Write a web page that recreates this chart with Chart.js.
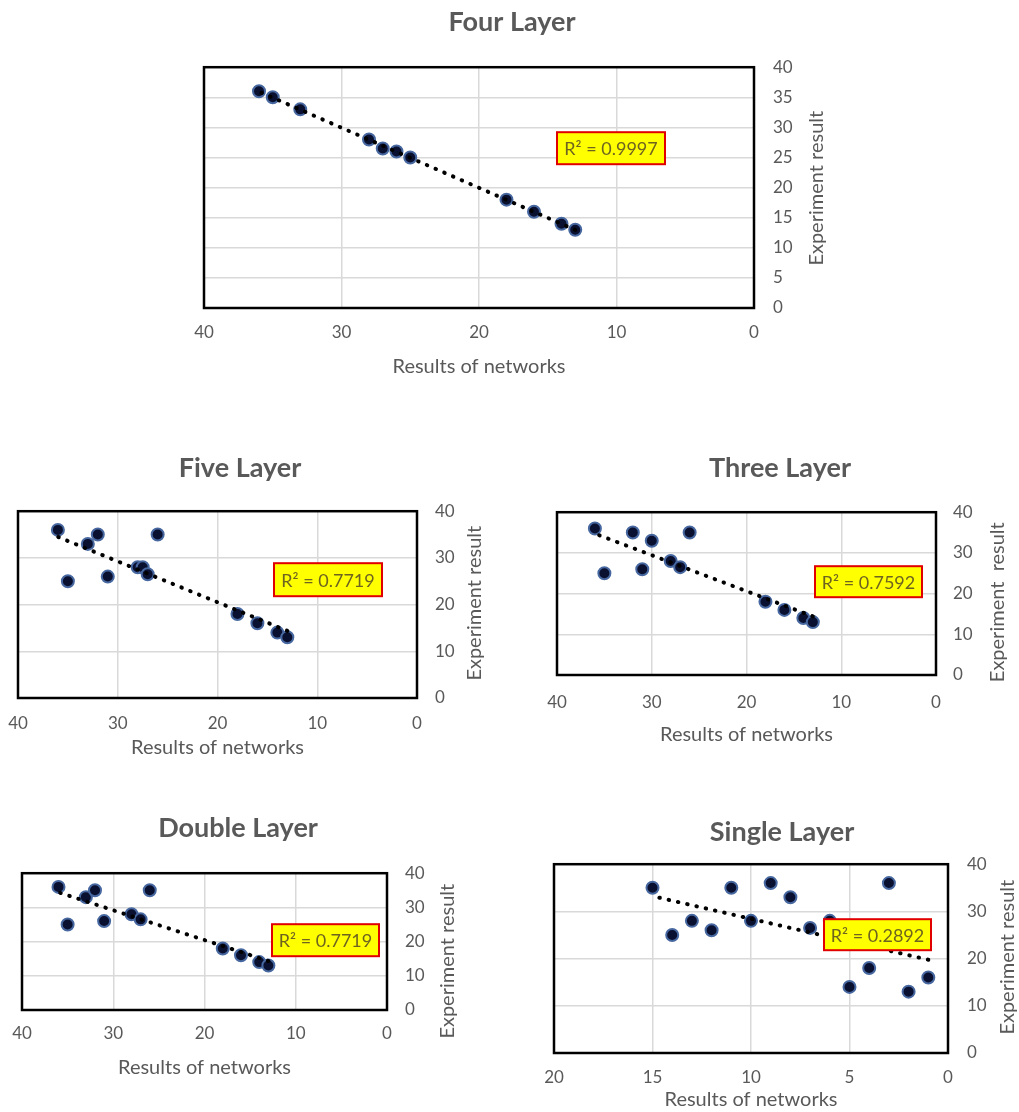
<!DOCTYPE html>
<html>
<head>
<meta charset="utf-8">
<title>Network layers vs experiment</title>
<script src="https://cdn.jsdelivr.net/npm/chart.js@4.4.1/dist/chart.umd.min.js"></script>
<style>
  html, body { margin: 0; padding: 0; background: #fff; overflow: hidden; }
  body { width: 1019px; height: 1112px; position: relative; }
  canvas { position: absolute; }
</style>
</head>
<body>
<canvas id="fourChart"></canvas>
<canvas id="fiveChart"></canvas>
<canvas id="threeChart"></canvas>
<canvas id="doubleChart"></canvas>
<canvas id="singleChart"></canvas>
<script>
// values: network result (x) vs experiment result (y)
const fourNet = [36, 35, 33, 28, 27, 26, 25, 18, 16, 14, 13];
const fourExp = [36, 35, 33, 28, 26.5, 26, 25, 18, 16, 14, 13];

const fiveNet = [36, 35, 33, 32, 31, 28, 27.5, 27, 26, 18, 16, 14, 13];
const fiveExp = [36, 25, 33, 35, 26, 28, 28, 26.5, 35, 18, 16, 14, 13];

const threeNet = [36, 35, 32, 31, 30, 28, 27, 26, 18, 16, 14, 13];
const threeExp = [36, 25, 35, 26, 33, 28, 26.5, 35, 18, 16, 14, 13];

const doubleNet = [36, 35, 33, 32, 31, 28, 27, 26, 18, 16, 14, 13];
const doubleExp = [36, 25, 33, 35, 26, 28, 26.5, 35, 18, 16, 14, 13];

const singleNet = [15, 14, 13, 12, 11, 10, 9, 8, 7, 6, 5, 4, 3, 2, 1];
const singleExp = [35, 25, 28, 26, 35, 28, 36, 33, 26.5, 28, 14, 18, 36, 13, 16];

const xTicksWide = [0, 10, 20, 30, 40];
const xTicksNarrow = [0, 5, 10, 15, 20];
const yTicksFine = [0, 5, 10, 15, 20, 25, 30, 35, 40];
const yTicksCoarse = [0, 10, 20, 30, 40];

const FONT = "Lato, 'Open Sans', sans-serif";
const GREY = '#595959';
const GRID = '#d9d9d9';
const TITLE_SIZE = 27, TICK_SIZE = 17, AXIS_SIZE = 20, R2_SIZE = 18;

// page layout of each panel (plot box = [left, top, right, bottom])
const panels = [
  { id: 'fourChart', title: 'Four Layer', net: fourNet, exp: fourExp, r2: 'R² = 0.9997',
    xTicks: xTicksWide, yTicks: yTicksFine, yTitle: 'Experiment result',
    plot: [204, 67, 754, 308], titleY: 22, xLabelY: 333, xTitleY: 367,
    yw: 66, yGap: 19, yTitleX: 817, yTitleY: 188, r2Box: [557, 132, 665, 164] },
  { id: 'fiveChart', title: 'Five Layer', net: fiveNet, exp: fiveExp, r2: 'R² = 0.7719',
    xTicks: xTicksWide, yTicks: yTicksCoarse, yTitle: 'Experiment result',
    plot: [18, 511, 417, 698], titleY: 468, xLabelY: 724, xTitleY: 748,
    yw: 45, yGap: 18, yTitleX: 475, yTitleY: 603, r2Box: [274, 563, 382, 596] },
  { id: 'threeChart', title: 'Three Layer', net: threeNet, exp: threeExp, r2: 'R² = 0.7592',
    xTicks: xTicksWide, yTicks: yTicksCoarse, yTitle: 'Experiment  result',
    plot: [557, 512, 936, 675], titleY: 468, xLabelY: 703, xTitleY: 735,
    yw: 67, yGap: 17, yTitleX: 998, yTitleY: 602, r2Box: [815, 566, 922, 597] },
  { id: 'doubleChart', title: 'Double Layer', net: doubleNet, exp: doubleExp, r2: 'R² = 0.7719',
    xTicks: xTicksWide, yTicks: yTicksCoarse, yTitle: 'Experiment result',
    plot: [22, 873, 387, 1010], titleY: 828, xLabelY: 1034, xTitleY: 1068,
    yw: 67, yGap: 18, yTitleX: 448, yTitleY: 961, r2Box: [272, 924, 379, 956] },
  { id: 'singleChart', title: 'Single Layer', net: singleNet, exp: singleExp, r2: 'R² = 0.2892',
    xTicks: xTicksNarrow, yTicks: yTicksCoarse, yTitle: 'Experiment result',
    plot: [554, 864, 948, 1053], titleY: 832, xLabelY: 1078, xTitleY: 1100,
    yw: 62, yGap: 19, yTitleX: 1008, yTitleY: 957, r2Box: [824, 919, 931, 950] }
];

// least squares line, like the Excel linear trendline
function linearFit(xs, ys) {
  const n = xs.length;
  const mx = xs.reduce((a, b) => a + b, 0) / n;
  const my = ys.reduce((a, b) => a + b, 0) / n;
  let sxy = 0, sxx = 0;
  xs.forEach((x, i) => {
    sxy += (x - mx) * (ys[i] - my);
    sxx += (x - mx) * (x - mx);
  });
  const slope = sxy / sxx;
  return x => my + slope * (x - mx);
}

panels.forEach(p => {
  const [bl, bt, br, bb] = p.plot;
  const titleHalf = TITLE_SIZE * 1.2 / 2;
  const axisHalf = AXIS_SIZE * 1.2 / 2;
  const tickHalf = TICK_SIZE * 1.2 / 2;
  const padL = 14;
  const left = bl - padL;
  const top = p.titleY - titleHalf;
  const right = Math.min(1019, p.yTitleX + 13);
  const bottom = p.xTitleY + axisHalf + 2;
  const width = right - left;
  const height = bottom - top;
  const padR = right - br - p.yw;

  const canvas = document.getElementById(p.id);
  canvas.width = width;
  canvas.height = height;
  canvas.style.left = left + 'px';
  canvas.style.top = top + 'px';

  const fit = linearFit(p.net, p.exp);
  const lo = Math.min(...p.net);
  const hi = Math.max(...p.net);

  // frame, rotated y title and the R² label
  const decor = {
    id: 'decor',
    afterDatasetsDraw(chart) {
      const { ctx, chartArea: a } = chart;
      ctx.save();
      ctx.strokeStyle = '#000';
      ctx.lineWidth = 2.5;
      ctx.strokeRect(a.left, a.top, a.right - a.left, a.bottom - a.top);

      const [x1, y1, x2, y2] = p.r2Box;
      ctx.fillStyle = '#ffff00';
      ctx.fillRect(x1 - left, y1 - top, x2 - x1, y2 - y1);
      ctx.strokeStyle = '#e00000';
      ctx.lineWidth = 2;
      ctx.strokeRect(x1 - left, y1 - top, x2 - x1, y2 - y1);
      ctx.fillStyle = '#6e6420';
      ctx.font = R2_SIZE + 'px ' + FONT;
      ctx.textAlign = 'center';
      ctx.textBaseline = 'middle';
      ctx.fillText(p.r2, (x1 + x2) / 2 - left, (y1 + y2) / 2 - top + 1);

      ctx.fillStyle = GREY;
      ctx.font = AXIS_SIZE + 'px ' + FONT;
      ctx.translate(p.yTitleX - left, p.yTitleY - top);
      ctx.rotate(-Math.PI / 2);
      ctx.fillText(p.yTitle, 0, 0);
      ctx.restore();
    }
  };

  new Chart(canvas, {
    type: 'scatter',
    data: {
      datasets: [{
        label: 'Linear trend',
        data: [{ x: lo, y: fit(lo) }, { x: hi, y: fit(hi) }],
        showLine: true,
        borderColor: '#000',
        borderWidth: 4,
        borderDash: [0.5, 9],
        borderCapStyle: 'round',
        pointRadius: 0,
        pointHoverRadius: 0
      }, {
        label: 'Experiment result',
        data: p.net.map((x, i) => ({ x: x, y: p.exp[i] })),
        backgroundColor: '#0a1030',
        borderColor: '#46679f',
        borderWidth: 2,
        pointRadius: 6,
        pointHoverRadius: 6
      }]
    },
    options: {
      responsive: false,
      animation: false,
      events: [],
      layout: { padding: { left: padL, right: padR, top: 0, bottom: 0 } },
      plugins: {
        legend: { display: false },
        tooltip: { enabled: false },
        title: {
          display: true,
          text: p.title,
          color: GREY,
          font: { family: FONT, size: TITLE_SIZE, weight: 'bold' },
          padding: { top: 0, bottom: bt - p.titleY - titleHalf }
        }
      },
      scales: {
        x: {
          type: 'linear',
          position: 'bottom',
          reverse: true,
          min: p.xTicks[0],
          max: p.xTicks[p.xTicks.length - 1],
          afterBuildTicks: s => { s.ticks = p.xTicks.map(v => ({ value: v })); },
          afterFit: s => { s.height = bottom - bb; },
          grid: { color: GRID, lineWidth: 1.5, drawTicks: false },
          border: { display: false },
          ticks: { color: GREY, font: { family: FONT, size: TICK_SIZE }, padding: p.xLabelY - bb - tickHalf },
          title: {
            display: true,
            text: 'Results of networks',
            color: GREY,
            font: { family: FONT, size: AXIS_SIZE },
            padding: { top: 0, bottom: 2 }
          }
        },
        y: {
          type: 'linear',
          position: 'right',
          min: p.yTicks[0],
          max: p.yTicks[p.yTicks.length - 1],
          afterBuildTicks: s => { s.ticks = p.yTicks.map(v => ({ value: v })); },
          afterFit: s => { s.width = p.yw; },
          grid: { color: GRID, lineWidth: 1.5, drawTicks: false },
          border: { display: false },
          ticks: { color: GREY, font: { family: FONT, size: TICK_SIZE }, padding: p.yGap }
        }
      }
    },
    plugins: [decor]
  });
});
</script>
</body>
</html>
